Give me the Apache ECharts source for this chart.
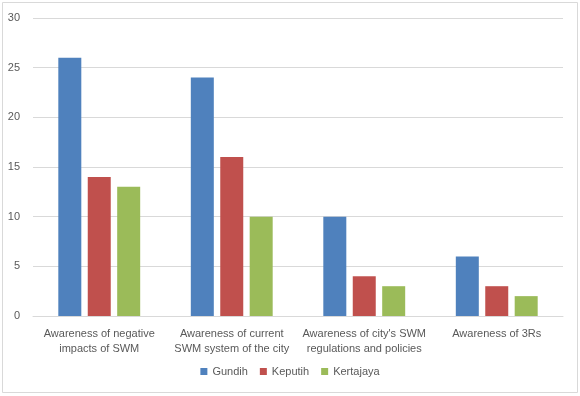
<!DOCTYPE html>
<html><head><meta charset="utf-8">
<script src="https://cdn.jsdelivr.net/npm/echarts@6/dist/echarts.min.js"></script>
<style>html,body{margin:0;padding:0;background:#fff}#c{width:580px;height:396px}</style>
</head><body><div id="c"></div>
<script>
var categories = ["Awareness of negative\nimpacts of SWM", "Awareness of current\nSWM system of the city", "Awareness of city's SWM\nregulations and policies", "Awareness of 3Rs"];
var seriesNames = ["Gundih", "Keputih", "Kertajaya"];
var gundih = [26, 24, 10, 6];
var keputih = [14, 16, 4, 3];
var kertajaya = [13, 10, 3, 2];
var colors = ["#4F81BD", "#C0504D", "#9BBB59"];
var values = [gundih, keputih, kertajaya];
var font = "Liberation Sans, Arial, sans-serif";
var chart = echarts.init(document.getElementById('c'), null, {renderer: 'canvas'});
chart.setOption({
  animation: false,
  backgroundColor: '#fff',
  graphic: [{type: 'rect', shape: {x: 2.5, y: 2.5, width: 575, height: 390}, style: {fill: 'none', stroke: '#D9D9D9', lineWidth: 1}}],
  grid: {left: 33, right: 17, top: 18, bottom: 80, containLabel: false},
  legend: {
    data: seriesNames, bottom: 14, left: 'center', itemWidth: 7, itemHeight: 7, itemGap: 12, icon: 'rect',
    textStyle: {color: '#595959', fontSize: 11, fontFamily: font}
  },
  xAxis: {
    type: 'category', data: categories,
    axisLine: {lineStyle: {color: '#D9D9D9'}}, axisTick: {show: false},
    axisLabel: {color: '#595959', fontSize: 11, fontFamily: font, lineHeight: 15, margin: 10, interval: 0}
  },
  yAxis: {
    type: 'value', min: 0, max: 30, interval: 5,
    axisLine: {show: false}, axisTick: {show: false},
    splitLine: {lineStyle: {color: '#D9D9D9'}},
    axisLabel: {color: '#595959', fontSize: 11, fontFamily: font, margin: 13}
  },
  series: seriesNames.map(function (n, i) {
    return {name: n, type: 'bar', data: values[i], barWidth: 23, barGap: '28%', itemStyle: {color: colors[i]}};
  })
});
</script></body></html>
